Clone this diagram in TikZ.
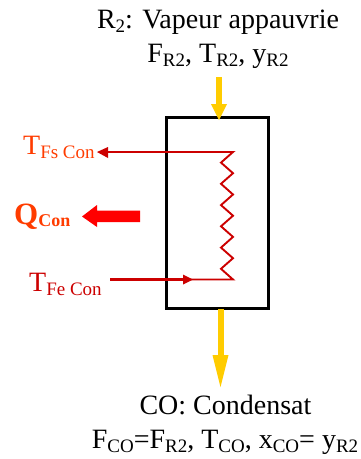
\documentclass[tikz,border=0pt]{standalone}
\usepackage{fontspec}
\setmainfont{Liberation Serif}
\usetikzlibrary{arrows.meta}
\definecolor{darkred}{RGB}{204,0,0}
\definecolor{orangered}{RGB}{255,60,0}
\definecolor{gold}{RGB}{255,204,0}
\tikzset{
 lbl/.style={inner sep=0pt,anchor=base,font=\fontsize{28}{32}\selectfont,text=black},
 redline/.style={draw=darkred,line width=2.6pt},
 thin red/.style={draw=darkred,line width=1.9pt},
 flow/.style={draw=gold,line width=6pt}
}
\newcommand{\sbs}[1]{\raisebox{-4.5pt}{\fontsize{19}{21}\selectfont #1}}
\begin{document}
\begin{tikzpicture}[x=1pt,y=-1pt]
\useasboundingbox (0,0) rectangle (361,459);
\node[draw,line width=3pt,minimum width=102pt,minimum height=191pt,inner sep=0pt] (box) at (217.5,212.5) {};
\coordinate (c1) at (188,152);
\coordinate (c2) at (233,152);
\coordinate (c3) at (233,279.5);
\coordinate (c4) at (110,279.5);
\coordinate (out) at (105,152);
\coordinate (y1) at (219,77);
\coordinate (y3) at (220.5,309);
% coil
\draw[thin red,line join=miter] (c1) -- (c2) -- (221,162.6) -- (233,173.2) -- (221,183.8) -- (233,194.5) -- (221,205.1) -- (233,215.7) -- (221,226.3) -- (233,236.9) -- (221,247.6) -- (233,258.2) -- (221,268.8) -- (c3) -- (c4);
\draw[redline] (c1) -- (out);
\fill[darkred] (97,152) -- (108,147) -- (108,158) -- cycle;
\draw[redline] (c4) -- (185,279.5);
\fill[darkred] (193,279.5) -- (183,274.5) -- (183,284.5) -- cycle;
% Q arrow
\fill[red] (140,210.7) -- (97,210.7) -- (97,205) -- (82,216.5) -- (97,227) -- (97,222) -- (140,222) -- cycle;
% yellow
\draw[flow] (y1) -- (219,106);
\fill[gold] (211,104) -- (227,104) -- (219,120) -- cycle;
\draw[flow] (y3) -- (220.5,356);
\fill[gold] (212.5,355) -- (228.5,355) -- (220.5,387) -- cycle;
% labels
\node[lbl] (t1) at (218,28) {R\sbs{2}: Vapeur appauvrie};
\node[lbl] (t2) at (218,62) {F\sbs{R2}, T\sbs{R2}, y\sbs{R2}};
\node[lbl] (t3) at (225.5,414) {CO: Condensat};
\node[lbl] (t4) at (225,448) {F\sbs{CO}=F\sbs{R2}, T\sbs{CO}, x\sbs{CO}= y\sbs{R2}};
\node[lbl,text=orangered,anchor=base west] (tfs) at (23,154) {T\sbs{Fs Con}};
\node[lbl,text=orangered,anchor=base west,font=\fontsize{31}{33}\selectfont\bfseries] (q) at (14,224) {Q\raisebox{-2pt}{\fontsize{18}{20}\selectfont\bfseries Con}};
\node[lbl,text=darkred,anchor=base west] (tfe) at (29,291) {T\sbs{Fe Con}};
\end{tikzpicture}
\end{document}
